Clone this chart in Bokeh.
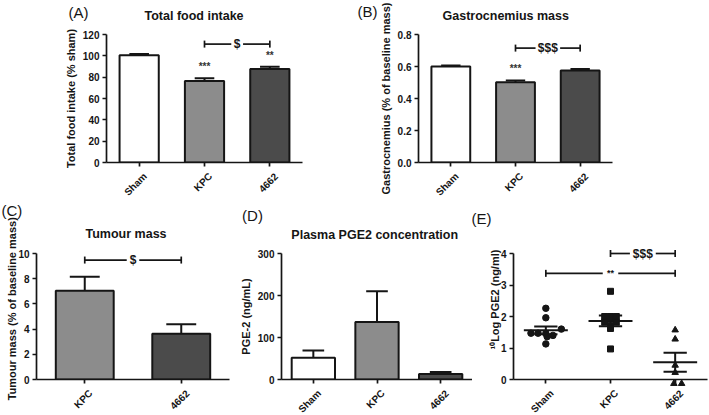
import math
from bokeh.plotting import figure
from bokeh.layouts import column, row
from bokeh.models import (FactorRange, Range1d, FixedTicker, NumeralTickFormatter,
                          CustomJSTickFormatter)
from bokeh.core.properties import value
from bokeh.embed import file_html
from bokeh.resources import INLINE

FONT = "Liberation Sans"
INK = "#151515"

# ---------------- data ----------------
groups = ["Sham", "KPC", "4662"]
tumour_groups = ["KPC", "4662"]
bar_colors = {"Sham": "#ffffff", "KPC": "#8c8c8c", "4662": "#4b4b4b"}

food_intake = [100.5, 76.5, 87.6]          # % sham
food_intake_sem = [1.3, 2.5, 2.2]
gastro_mass = [0.600, 0.502, 0.575]        # % of baseline mass
gastro_mass_sem = [0.006, 0.011, 0.010]
tumour_mass = [7.05, 3.63]                 # % of baseline mass
tumour_mass_sem = [1.10, 0.75]
pge2 = [52, 137, 13]                       # ng/mL
pge2_sem = [17, 73, 5]

log_pge2_sham = [2.26, 1.96, 1.60, 1.47, 1.47, 1.46, 1.40, 1.36, 1.13]
log_pge2_kpc = [2.80, 2.00, 2.00, 2.00, 1.82, 1.82, 1.72, 1.62, 0.97]
log_pge2_4662 = [1.57, 1.28, 0.45, 0.22, -0.13, -0.13]
log_pge2_mean = [1.56, 1.86, 0.55]
log_pge2_sem = [0.12, 0.17, 0.30]

food_stars = [("KPC", 90, "***"), ("4662", 100, "**")]
gastro_stars = [("KPC", 0.59, "***")]
food_brackets = [("KPC", "4662", 111, "$")]
gastro_brackets = [("KPC", "4662", 0.715, "$$$")]
tumour_brackets = [("KPC", "4662", 9.48, "$")]
log_brackets = [("KPC", "4662", 4.0, "$$$"), ("Sham", "4662", 3.37, "**")]

# ---------------- styling / placement (not data) ----------------
sham_jitter = [0, 0, 0.24, -0.23, -0.12, 0, 0.11, 0.02, 0]
kpc_jitter = [0, -0.09, 0, 0.09, -0.09, 0.09, 0, 0, 0]
g4662_jitter = [0, 0, 0, 0, -0.02, 0.10]


def make_panel(cats, yr, x0, y0, width, height, border, yticks, ylabel, fmt=None):
    left, right, top, bottom = border
    p = figure(x_range=FactorRange(factors=cats), y_range=Range1d(*yr),
               width=width, height=height, output_backend="svg",
               toolbar_location=None, tools="",
               min_border_left=left, min_border_right=right,
               min_border_top=top, min_border_bottom=bottom)
    p.outline_line_color = None
    p.xgrid.visible = False
    p.ygrid.visible = False
    p.background_fill_color = "white"
    p.border_fill_color = "white"
    for ax in (p.xaxis[0], p.yaxis[0]):
        ax.axis_line_width = 1.7
        ax.axis_line_color = INK
        ax.major_tick_line_width = 1.7
        ax.major_tick_line_color = INK
        ax.major_tick_in = 0
        ax.major_tick_out = 4
        ax.minor_tick_line_color = None
        ax.major_label_text_font = FONT
        ax.major_label_text_font_style = "bold"
        ax.major_label_text_font_size = "10px"
        ax.major_label_text_color = INK
        ax.axis_label_text_font = FONT
        ax.axis_label_text_font_style = "bold"
        ax.axis_label_text_font_size = "11px"
        ax.axis_label_text_color = INK
    p.yaxis.major_label_standoff = 3
    p.yaxis.axis_label_standoff = 3
    if ylabel:
        p.yaxis.axis_label = ylabel
    p.yaxis.ticker = FixedTicker(ticks=yticks)
    if fmt:
        p.yaxis.formatter = NumeralTickFormatter(format=fmt)
    # category names are drawn slanted 45 degrees just below each axis tick
    p.xaxis.formatter = CustomJSTickFormatter(code="return ''")
    p.text(x=cats, y=[yr[0]] * len(cats), text=cats, angle=math.pi / 4,
           x_offset=6, y_offset=12, text_align="right", text_baseline="middle",
           text_font=value(FONT), text_font_style="bold", text_font_size="10px",
           text_color=INK, level="overlay")
    p._frame = (x0 + left, x0 + width - right, y0 + top, y0 + height - bottom)
    p._n = len(cats)
    p._yr = yr
    return p


def page_text(p, px, py, text, size, style="normal", angle=0.0, align="left"):
    """Text placed at a page position, converted to the panel's data space."""
    L, R, T, B = p._frame
    x = (px - L) / (R - L) * p._n
    y = p._yr[0] + (B - py) / (B - T) * (p._yr[1] - p._yr[0])
    p.text(x=[x], y=[y], text=[text], text_align=align, text_baseline="middle",
           angle=angle, text_font=value(FONT), text_font_size=size,
           text_font_style=style, text_color=INK, level="overlay")


def bars(p, cats, means, sems, width, cap):
    xs = [cats.index(c) + 0.5 for c in cats]
    p.vbar(x=cats, top=means, bottom=0, width=width,
           fill_color=[bar_colors[c] for c in cats], line_color=INK, line_width=2)
    hi = [m + s for m, s in zip(means, sems)]
    p.segment(x0=xs, y0=means, x1=xs, y1=hi, line_color=INK, line_width=2)
    p.segment(x0=[x - cap / 2 for x in xs], y0=hi, x1=[x + cap / 2 for x in xs], y1=hi,
              line_color=INK, line_width=2)


def brackets(p, cats, spec, half_gap, size="12px"):
    for a, b, y, txt in spec:
        xa, xb = cats.index(a) + 0.5, cats.index(b) + 0.5
        xm = (xa + xb) / 2
        p.segment(x0=[xa, xm + half_gap], y0=[y, y], x1=[xm - half_gap, xb], y1=[y, y],
                  line_color=INK, line_width=1.7, level="overlay")
        p.scatter(x=[xa, xb], y=[y, y], marker="dash", angle=math.pi / 2, size=7,
                  line_color=INK, line_width=1.7, level="overlay")
        p.text(x=[xm], y=[y], text=[txt], text_align="center", text_baseline="middle",
               text_font=value(FONT), text_font_style="bold", text_font_size=size,
               text_color=INK, level="overlay")


def stars(p, cats, spec):
    for c, y, txt in spec:
        p.text(x=[cats.index(c) + 0.5], y=[y], text=[txt], text_align="center",
               text_baseline="middle", text_font=value(FONT), text_font_style="bold",
               text_font_size="10px", text_color="#333333")


# ---------------- (A) total food intake ----------------
pA = make_panel(groups, (0, 120), 0, 0, 350, 200, (106, 48, 33, 38),
                [0, 20, 40, 60, 80, 100, 120], "Total food intake (% sham)")
bars(pA, groups, food_intake, food_intake_sem, 0.6, 0.3)
stars(pA, groups, food_stars)
brackets(pA, groups, food_brackets, 0.09)
page_text(pA, 68, 11, "(A)", "15px")
page_text(pA, 144, 14, "Total food intake", "12.5px", "bold")

# ---------------- (B) gastrocnemius ----------------
pB = make_panel(groups, (0, 0.8), 350, 0, 359, 200, (68, 97, 34, 38),
                [0, 0.2, 0.4, 0.6, 0.8], "Gastrocnemius (% of baseline mass)", "0.0")
bars(pB, groups, gastro_mass, gastro_mass_sem, 0.6, 0.3)
stars(pB, groups, gastro_stars)
brackets(pB, groups, gastro_brackets, 0.19)
page_text(pB, 357, 11, "(B)", "15px")
page_text(pB, 442, 15, "Gastrocnemius mass", "12.5px", "bold")

# ---------------- (C) tumour mass ----------------
pC = make_panel(tumour_groups, (0, 10), 0, 200, 236, 215, (36, 7, 53, 32),
                [0, 2, 4, 6, 8, 10], None)
bars(pC, tumour_groups, tumour_mass, tumour_mass_sem, 0.6, 0.31)
brackets(pC, tumour_groups, tumour_brackets, 0.065)
page_text(pC, 1, 209, "(C)", "15px")
page_text(pC, 85, 233, "Tumour mass", "12.5px", "bold")
page_text(pC, 11.5, 310, "Tumour mass (% of baseline mass)", "11px", "bold",
          math.pi / 2, "center")

# ---------------- (D) plasma PGE2 ----------------
pD = make_panel(groups, (0, 300), 236, 200, 236, 215, (42, 0, 52, 33),
                [0, 100, 200, 300], "PGE-2 (ng/mL)")
bars(pD, groups, pge2, pge2_sem, 0.68, 0.34)
page_text(pD, 238, 213, "(D)", "15px")
page_text(pD, 288, 233, "Plasma PGE2 concentration", "12.5px", "bold")

# ---------------- (E) log PGE2 scatter ----------------
pE = make_panel(groups, (0, 4), 472, 200, 237, 215, (41, 2, 49, 36),
                [0, 1, 2, 3, 4], None)

for cat, vals, jit, marker, size in (("Sham", log_pge2_sham, sham_jitter, "circle", 6.5),
                                     ("KPC", log_pge2_kpc, kpc_jitter, "square", 6),
                                     ("4662", log_pge2_4662, g4662_jitter, "triangle", 6.5)):
    xc = groups.index(cat) + 0.5
    pE.scatter(x=[xc + j for j in jit], y=vals, marker=marker, size=size,
               fill_color=INK, line_color=INK, level="overlay")

xs = [groups.index(c) + 0.5 for c in groups]
lo = [m - s for m, s in zip(log_pge2_mean, log_pge2_sem)]
hi = [m + s for m, s in zip(log_pge2_mean, log_pge2_sem)]
pE.segment(x0=[x - 0.34 for x in xs], y0=log_pge2_mean, x1=[x + 0.34 for x in xs],
           y1=log_pge2_mean, line_color=INK, line_width=2)
pE.segment(x0=xs, y0=lo, x1=xs, y1=hi, line_color=INK, line_width=2)
pE.segment(x0=[x - 0.18 for x in xs], y0=lo, x1=[x + 0.18 for x in xs], y1=lo,
           line_color=INK, line_width=2)
pE.segment(x0=[x - 0.18 for x in xs], y0=hi, x1=[x + 0.18 for x in xs], y1=hi,
           line_color=INK, line_width=2)
brackets(pE, groups, log_brackets[:1], 0.2)
brackets(pE, groups, log_brackets[1:], 0.12, "9px")
page_text(pE, 471, 213, "(E)", "15px")
page_text(pE, 494.5, 296.5, "\u00b9\u2070Log PGE2 (ng/ml)", "11px", "bold",
          math.pi / 2, "center")

layout = column(row(pA, pB), row(pC, pD, pE))
open("out.html", "w").write(file_html(layout, INLINE))
